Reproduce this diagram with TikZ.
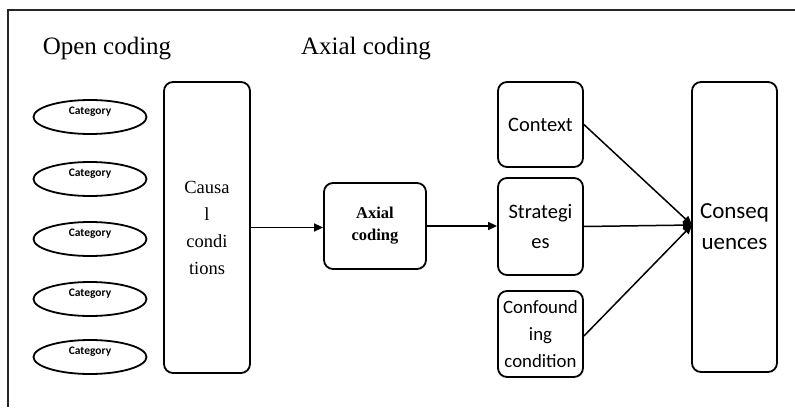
\documentclass[tikz,border=0pt]{standalone}
\usepackage{fontspec}
\setmainfont{Liberation Serif}
\newfontfamily\calib{Carlito}
\usetikzlibrary{shapes.geometric,arrows.meta}
\begin{document}
\begin{tikzpicture}[x=1pt,y=-1pt,
  cat/.style={draw,line width=1.8pt,ellipse,minimum width=113pt,minimum height=34pt,inner sep=0pt},
  rbox/.style={draw,line width=1.8pt,rounded corners=9pt,inner sep=0pt,align=center},
  conn/.style={line width=1.5pt,-{Triangle[length=9pt,width=8pt]}}]
\useasboundingbox (0,0) rectangle (795,407);
\draw[line width=1.5pt,black!85] (795,10) -- (8,10) -- (8,407);
\node[font=\fontsize{25}{30}\selectfont] (t1) at (107,49) {Open coding};
\node[font=\fontsize{25}{30}\selectfont] (t2) at (366,49) {Axial coding};
\foreach \i/\y in {1/117,2/179,3/239,4/299,5/357}{
  \node[cat] (c\i) at (90,\y) {};
  \node[font=\calib\bfseries\fontsize{11.5}{13}\selectfont] (cl\i) at (90,\y-5) {Category};
}
\node[rbox,minimum width=86pt,minimum height=291pt,font=\fontsize{18.5}{27}\selectfont] (cc) at (207,227.5) {Causa\\l\\condi\\tions};
\node[rbox,minimum width=102pt,minimum height=86pt,font=\bfseries\fontsize{16.5}{22}\selectfont] (ax) at (375,226) {Axial\\coding};
\node[rbox,minimum width=85pt,minimum height=85pt,font=\calib\fontsize{20.5}{30}\selectfont] (ctx) at (540.5,124.5) {Context};
\node[rbox,minimum width=85pt,minimum height=97pt,font=\calib\fontsize{20.5}{30}\selectfont] (str) at (540.5,226.5) {Strategi\\es};
\node[rbox,minimum width=85pt,minimum height=86pt,font=\calib\fontsize{18.8}{27}\selectfont] (cf) at (540.5,334) {Confound\\ing\\condition};
\node[rbox,minimum width=85pt,minimum height=290pt,font=\calib\fontsize{23}{31}\selectfont] (cq) at (734.5,227) {Conseq\\uences};
\coordinate (tip) at (692,225);
\draw[conn] (cc.east) -- (cc.east -| ax.west);
\draw[conn] (ax.east) -- (ax.east -| str.west);
\draw[conn] (ctx.east) -- (tip);
\draw[conn] (str.east) -- (tip);
\draw[conn] ([yshift=-2pt]cf.east) -- (tip);
\end{tikzpicture}
\end{document}
